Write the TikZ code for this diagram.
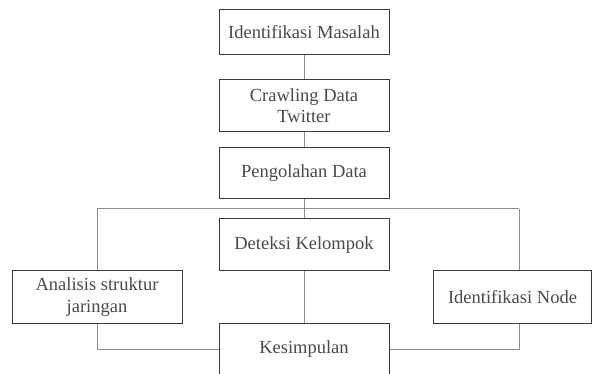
\documentclass[tikz,border=0pt]{standalone}
\usepackage{fontspec}
\setmainfont{Liberation Serif}
\definecolor{boxline}{HTML}{3A3A3A}
\definecolor{conn}{HTML}{8C8C8C}
\definecolor{txt}{HTML}{4A4A4A}
\begin{document}
\begin{tikzpicture}[x=1pt,y=-1pt,
  stepbox/.style={draw=boxline,line width=1pt,fill=white,text=txt,align=center,
    inner sep=0pt,font=\fontsize{18.5}{21}\selectfont},
  link/.style={draw=conn,line width=1pt}]
\useasboundingbox (0,0) rectangle (592,374);
\clip (0,0) rectangle (592,374);
\node[stepbox,minimum width=170,minimum height=45] (m1) at (304,32.5) {Identifikasi Masalah};
\node[stepbox,minimum width=170,minimum height=52] (m2) at (304,106) {Crawling Data\\Twitter};
\node[stepbox,minimum width=170,minimum height=51] (m3) at (304,173.5) {Pengolahan Data};
\node[stepbox,minimum width=170,minimum height=52] (m4) at (304,245) {Deteksi Kelompok};
\node[stepbox,minimum width=170,minimum height=52,font=\fontsize{18.5}{22}\selectfont] (ana) at (97,297) {Analisis struktur\\jaringan};
\node[stepbox,minimum width=158,minimum height=52] (idn) at (512.5,297) {Identifikasi Node};
\node[stepbox,minimum width=170,minimum height=52] (kes) at (304,349) {\raisebox{-2pt}{Kesimpulan}};
\coordinate (jl) at (97,209);
\coordinate (jr) at (519,209);
\draw[link] (m1.south) -- (m2.north);
\draw[link] (m2.south) -- (m3.north);
\draw[link] (m3.south) -- (m4.north);
\draw[link] (jl) -- (jr);
\draw[link] (jl) -- (ana.north);
\draw[link] (jr) -- (jr |- idn.north);
\draw[link] (m4.south) -- (kes.north);
\draw[link] (ana.south) |- (kes.west);
\draw[link] (jr |- idn.south) |- (kes.east);
\end{tikzpicture}
\end{document}
